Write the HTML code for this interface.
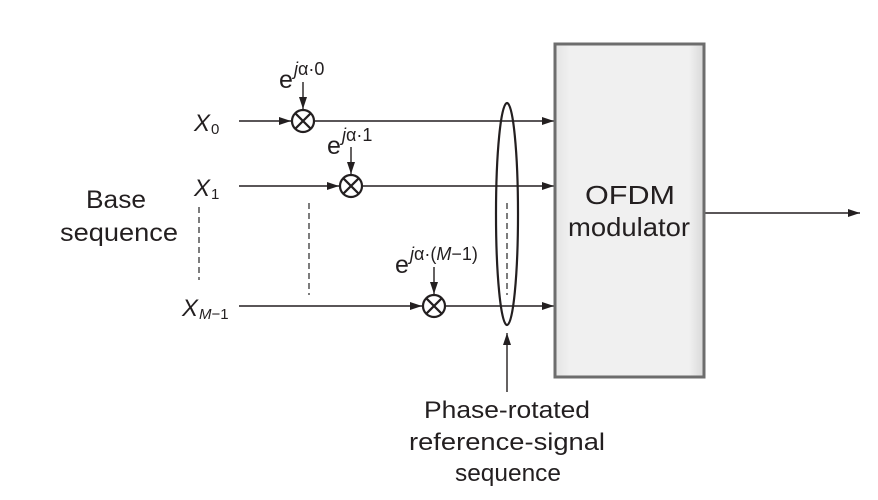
<!DOCTYPE html>
<html><head><style>
body{margin:0;background:#fff;}
svg text{font-family:"Liberation Sans",sans-serif;fill:#231f20;}
</style></head><body>
<svg width="878" height="495" viewBox="0 0 878 495" xmlns="http://www.w3.org/2000/svg">
<defs>
<marker id="a" markerWidth="12" markerHeight="8" refX="12" refY="4" orient="auto" markerUnits="userSpaceOnUse"><path d="M0,0 L12,4 L0,8 Z" fill="#231f20"/></marker>
<linearGradient id="g" x1="0" x2="1"><stop offset="0" stop-color="#e4e4e4"/><stop offset="0.1" stop-color="#f0f0f0"/><stop offset="0.9" stop-color="#f0f0f0"/><stop offset="1" stop-color="#d8d8d8"/></linearGradient>
</defs>
<g stroke="#231f20" stroke-width="1.4" fill="none">
<line x1="239" y1="121" x2="291" y2="121" marker-end="url(#a)"/>
<line x1="314" y1="121" x2="554" y2="121" marker-end="url(#a)"/>
<line x1="303" y1="82" x2="303" y2="109" marker-end="url(#a)"/>
<line x1="239" y1="186" x2="339" y2="186" marker-end="url(#a)"/>
<line x1="362" y1="186" x2="554" y2="186" marker-end="url(#a)"/>
<line x1="351" y1="147" x2="351" y2="174" marker-end="url(#a)"/>
<line x1="239" y1="306" x2="422" y2="306" marker-end="url(#a)"/>
<line x1="445" y1="306" x2="554" y2="306" marker-end="url(#a)"/>
<line x1="434" y1="267" x2="434" y2="294" marker-end="url(#a)"/>
<g stroke-width="2.2">
<circle cx="303" cy="121" r="11"/><line x1="295.2" y1="113.2" x2="310.8" y2="128.8"/><line x1="295.2" y1="128.8" x2="310.8" y2="113.2"/>
<circle cx="351" cy="186" r="11"/><line x1="343.2" y1="178.2" x2="358.8" y2="193.8"/><line x1="343.2" y1="193.8" x2="358.8" y2="178.2"/>
<circle cx="434" cy="306" r="11"/><line x1="426.2" y1="298.2" x2="441.8" y2="313.8"/><line x1="426.2" y1="313.8" x2="441.8" y2="298.2"/>
<ellipse cx="507" cy="214" rx="11" ry="111"/>
</g>
<g stroke-dasharray="6,4" stroke="#444">
<line x1="199" y1="207" x2="199" y2="280"/>
<line x1="309" y1="203" x2="309" y2="295"/>
<line x1="507" y1="203" x2="507" y2="295"/>
</g>
<line x1="507" y1="392" x2="507" y2="333" marker-end="url(#a)"/>
<line x1="704" y1="213" x2="860" y2="213" marker-end="url(#a)"/>
</g>
<rect x="555" y="44" width="149" height="333" fill="url(#g)" stroke="#6d6d6d" stroke-width="3"/>
<text x="585" y="204" font-size="26" textLength="90" lengthAdjust="spacingAndGlyphs">OFDM</text>
<text x="568" y="236" font-size="26" textLength="122" lengthAdjust="spacingAndGlyphs">modulator</text>
<text x="86" y="208" font-size="25" textLength="60" lengthAdjust="spacingAndGlyphs">Base</text>
<text x="60" y="241" font-size="25" textLength="118" lengthAdjust="spacingAndGlyphs">sequence</text>
<text x="194" y="131" font-size="24" font-style="italic">X</text><text x="211" y="134" font-size="15">0</text>
<text x="194" y="196" font-size="24" font-style="italic">X</text><text x="211" y="199" font-size="15">1</text>
<text x="182" y="316" font-size="24" font-style="italic">X</text><text x="199" y="319" font-size="15"><tspan font-style="italic">M</tspan>−1</text>
<text x="279" y="88" font-size="25">e</text><text x="294" y="75" font-size="18"><tspan font-style="italic">j</tspan>α·0</text>
<text x="327" y="154" font-size="25">e</text><text x="342" y="141" font-size="18"><tspan font-style="italic">j</tspan>α·1</text>
<text x="395" y="273" font-size="25">e</text><text x="410" y="260" font-size="18"><tspan font-style="italic">j</tspan>α·(<tspan font-style="italic">M</tspan>−1)</text>
<text x="424" y="418" font-size="24" textLength="166" lengthAdjust="spacingAndGlyphs">Phase-rotated</text>
<text x="409" y="450" font-size="24" textLength="196" lengthAdjust="spacingAndGlyphs">reference-signal</text>
<text x="455" y="481" font-size="24" textLength="106" lengthAdjust="spacingAndGlyphs">sequence</text>
</svg>
</body></html>
